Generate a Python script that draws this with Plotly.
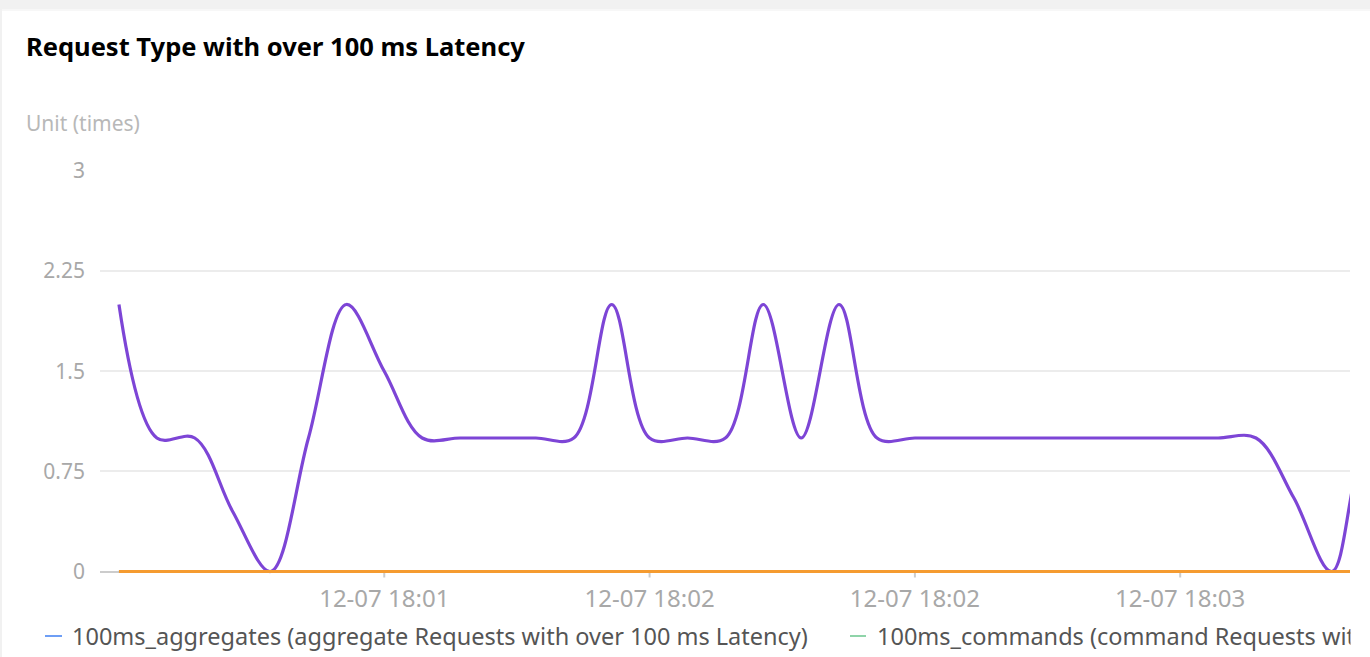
import plotly.graph_objects as go

# Timestamps (5 s steps) and per-interval counts of requests over 100 ms
times = [
    "12-07 18:00:55", "12-07 18:01:00", "12-07 18:01:05", "12-07 18:01:10",
    "12-07 18:01:15", "12-07 18:01:20", "12-07 18:01:25", "12-07 18:01:30",
    "12-07 18:01:35", "12-07 18:01:40", "12-07 18:01:45", "12-07 18:01:50",
    "12-07 18:01:55", "12-07 18:02:00", "12-07 18:02:05", "12-07 18:02:10",
    "12-07 18:02:15", "12-07 18:02:20", "12-07 18:02:25", "12-07 18:02:30",
    "12-07 18:02:35", "12-07 18:02:40", "12-07 18:02:45", "12-07 18:02:50",
    "12-07 18:02:55", "12-07 18:03:00", "12-07 18:03:05", "12-07 18:03:10",
    "12-07 18:03:15", "12-07 18:03:20", "12-07 18:03:25", "12-07 18:03:30",
    "12-07 18:03:35", "12-07 18:03:40", "12-07 18:03:45",
]
aggregates = [0] * 35
commands = [0] * 35
series_c = [2, 1, 1, 0.45, 0, 1, 2, 1.5, 1, 1, 1, 1, 1, 2, 1, 1, 1, 2, 1, 2,
            1, 1, 1, 1, 1, 1, 1, 1, 1, 1, 1, 0.55, 0, 1, 1]
series_d = [0] * 35

tick_idx = [7, 14, 21, 28]
tick_vals = [times[i] for i in tick_idx]
tick_text = [times[i][:11] for i in tick_idx]
y_ticks = [0, 0.75, 1.5, 2.25, 3]
y_text = ["0", "0.75", "1.5", "2.25", "3"]

legend_names = [
    "100ms_aggregates (aggregate Requests with over 100 ms Latency)",
    "100ms_commands (command Requests with over 100 ms Latency)",
]

W, H = 1370, 657
L, R, T, B = 100, 20, 171, 80
PW, PH = W - L - R, H - T - B
Y_AXIS_PX = 571.5                    # pixel row of the value 0
UNIT_PX = (Y_AXIS_PX - T) / 3.0      # pixels per unit on y
Y_MIN = -(H - B - Y_AXIS_PX) / UNIT_PX
FONT = "Noto Sans"
GREY_AXIS = "#cccccc"


def px(x):
    return (x - L) / PW


def py(y):
    return (H - B - y) / PH


fig = go.Figure()
fig.add_trace(go.Scatter(x=times, y=aggregates, name=legend_names[0], mode="lines",
                         line=dict(color="#6e9ef5", width=3), showlegend=False))
fig.add_trace(go.Scatter(x=times, y=commands, name=legend_names[1], mode="lines",
                         line=dict(color="#8fd4a9", width=3), showlegend=False))
fig.add_trace(go.Scatter(x=times, y=series_c, name="series C", mode="lines",
                         line=dict(color="#7d45d6", width=3.2, shape="spline", smoothing=1),
                         showlegend=False))
fig.add_trace(go.Scatter(x=times, y=series_d, name="series D", mode="lines",
                         line=dict(color="#f59b30", width=3), showlegend=False))

shapes = [
    # page background around the card
    dict(type="rect", xref="paper", yref="paper", x0=px(0), x1=px(W), y0=py(0), y1=py(9),
         fillcolor="#f1f1f1", line_width=0, layer="below"),
    dict(type="rect", xref="paper", yref="paper", x0=px(0), x1=px(W), y0=py(9), y1=py(11),
         fillcolor="#f7f7f7", line_width=0, layer="below"),
    dict(type="rect", xref="paper", yref="paper", x0=px(0), x1=px(2), y0=py(0), y1=py(H),
         fillcolor="#f1f1f1", line_width=0, layer="below"),
    # legend swatches
    dict(type="line", xref="paper", yref="paper", x0=px(45), x1=px(62), y0=py(636), y1=py(636),
         line=dict(color="#6e9ef5", width=2)),
    dict(type="line", xref="paper", yref="paper", x0=px(850), x1=px(866), y0=py(636), y1=py(636),
         line=dict(color="#8fd4a9", width=2)),
]
# x-axis tick marks hanging below the zero line
for tv in tick_vals:
    shapes.append(dict(type="line", xref="x", yref="paper", x0=tv, x1=tv,
                       y0=py(Y_AXIS_PX), y1=py(Y_AXIS_PX + 6),
                       line=dict(color=GREY_AXIS, width=2), layer="below"))

annotations = [
    dict(text="<b>Request Type with over 100 ms Latency</b>", xref="paper", yref="paper",
         x=px(24), y=py(46), xanchor="left", yanchor="middle", showarrow=False,
         font=dict(family=FONT, size=25.5, color="#000000")),
    dict(text="Unit (times)", xref="paper", yref="paper",
         x=px(24), y=py(123), xanchor="left", yanchor="middle", showarrow=False,
         font=dict(family=FONT, size=21, color="#b8b8b8")),
    dict(text=legend_names[0], xref="paper", yref="paper",
         x=px(70), y=py(636), xanchor="left", yanchor="middle", showarrow=False,
         font=dict(family=FONT, size=23.5, color="#555555")),
    dict(text=legend_names[1], xref="paper", yref="paper",
         x=px(875), y=py(636), xanchor="left", yanchor="middle", showarrow=False,
         font=dict(family=FONT, size=23.5, color="#555555")),
    # container edge hides overflowing legend text
    dict(text=" ", xref="paper", yref="paper", x=px(1350), y=py(636), xanchor="left",
         yanchor="middle", showarrow=False, width=40, height=44, bgcolor="#ffffff",
         borderpad=0),
]

fig.update_layout(
    width=W, height=H,
    margin=dict(l=L, r=R, t=T, b=B),
    paper_bgcolor="#ffffff", plot_bgcolor="#ffffff",
    shapes=shapes, annotations=annotations,
    font=dict(family=FONT),
    showlegend=False,
)
fig.update_xaxes(
    type="category", range=[-0.5, 32.48],
    tickmode="array", tickvals=tick_vals, ticktext=tick_text,
    ticks="", showline=False, showgrid=False, zeroline=False,
    tickfont=dict(family=FONT, size=24, color="#a8a8a8"),
    ticklabelstandoff=5,
)
fig.update_yaxes(
    range=[Y_MIN, 3], tickmode="array", tickvals=y_ticks, ticktext=y_text,
    showgrid=True, gridcolor="#ececec", gridwidth=2,
    zeroline=True, zerolinecolor=GREY_AXIS, zerolinewidth=2,
    showline=False, ticks="",
    tickfont=dict(family=FONT, size=21, color="#a8a8a8"),
    ticklabelstandoff=14,
)

fig.write_html("out.html")
